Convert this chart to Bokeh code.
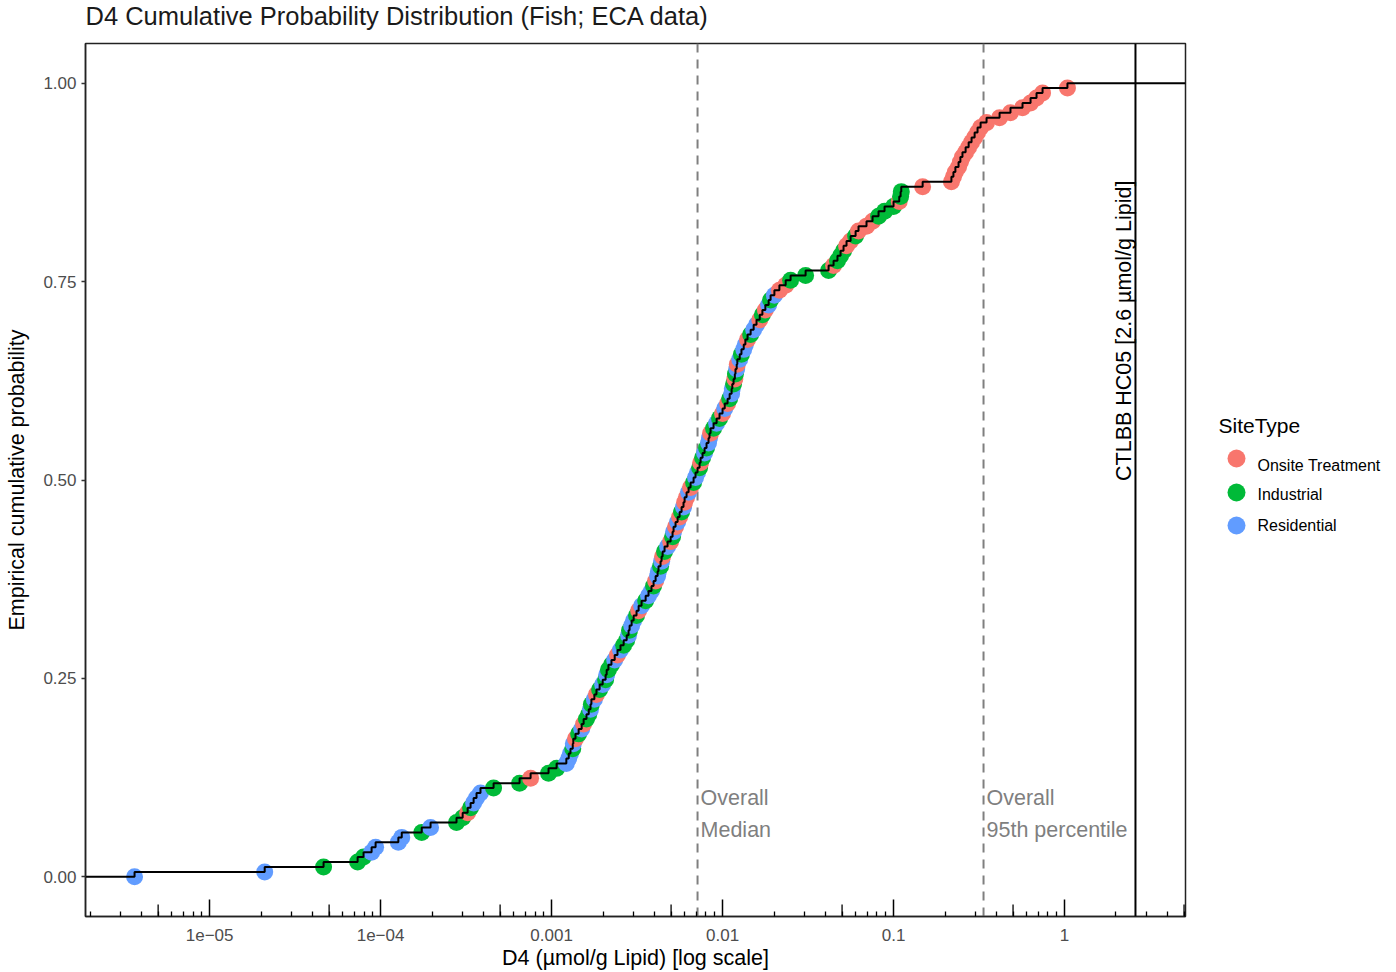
from bokeh.plotting import figure
from bokeh.layouts import row, column
from bokeh.models import (ColumnDataSource, FixedTicker, Span, Label,
                          CustomJSTickFormatter, Range1d)
from bokeh.core.properties import value
from bokeh.embed import file_html
from bokeh.resources import INLINE

# ---------------- data ----------------
d4_values = [
    3.64e-6, 2.10e-5, 4.64e-5, 7.34e-5, 7.95e-5, 8.86e-5, 9.35e-5, 1.27e-4, 1.33e-4, 1.74e-4,
    1.96e-4, 2.78e-4, 3.02e-4, 3.23e-4, 3.36e-4, 3.50e-4, 3.64e-4, 3.84e-4, 4.58e-4, 6.50e-4,
    7.54e-4, 9.60e-4, 1.07e-3, 1.22e-3, 1.26e-3, 1.29e-3, 1.33e-3, 1.34e-3, 1.38e-3, 1.44e-3,
    1.50e-3, 1.54e-3, 1.60e-3, 1.65e-3, 1.69e-3, 1.71e-3, 1.78e-3, 1.83e-3, 1.91e-3, 1.99e-3,
    2.07e-3, 2.10e-3, 2.15e-3, 2.24e-3, 2.34e-3, 2.43e-3, 2.53e-3, 2.64e-3, 2.75e-3, 2.82e-3,
    2.86e-3, 2.94e-3, 3.02e-3, 3.14e-3, 3.23e-3, 3.36e-3, 3.55e-3, 3.69e-3, 3.84e-3, 3.95e-3,
    4.06e-3, 4.17e-3, 4.22e-3, 4.34e-3, 4.40e-3, 4.46e-3, 4.58e-3, 4.77e-3, 4.97e-3, 5.10e-3,
    5.17e-3, 5.31e-3, 5.46e-3, 5.61e-3, 5.76e-3, 5.91e-3, 6.00e-3, 6.16e-3, 6.33e-3, 6.50e-3,
    6.77e-3, 6.95e-3, 7.14e-3, 7.34e-3, 7.44e-3, 7.64e-3, 7.85e-3, 8.06e-3, 8.28e-3, 8.39e-3,
    8.51e-3, 8.86e-3, 9.23e-3, 9.60e-3, 1.00e-2, 1.03e-2, 1.07e-2, 1.10e-2, 1.13e-2, 1.14e-2,
    1.16e-2, 1.18e-2, 1.19e-2, 1.21e-2, 1.22e-2, 1.26e-2, 1.29e-2, 1.33e-2, 1.36e-2, 1.40e-2,
    1.46e-2, 1.52e-2, 1.58e-2, 1.65e-2, 1.71e-2, 1.78e-2, 1.86e-2, 1.91e-2, 2.01e-2, 2.15e-2,
    2.34e-2, 2.50e-2, 3.06e-2, 4.17e-2, 4.46e-2, 4.70e-2, 4.90e-2, 5.10e-2, 5.31e-2, 5.61e-2,
    6.00e-2, 6.24e-2, 6.95e-2, 7.54e-2, 8.17e-2, 8.86e-2, 0.100, 0.108, 0.110, 0.111,
    0.148, 0.218, 0.224, 0.230, 0.240, 0.246, 0.253, 0.264, 0.275, 0.286,
    0.298, 0.310, 0.323, 0.350, 0.417, 0.483, 0.568, 0.633, 0.686, 0.744,
    1.04,
]
# R = Onsite Treatment, G = Industrial, B = Residential (one code per value above)
site_codes = list(
    "BBGGGBBBBG" "BGGRGBBBGG" "RGGBBBGBRG" "BRGGBGBRGB" "GBGGBRBGGB"
    "GBBGRBGBBG" "RBBGBRGBRG" "BRBRGBRRBR" "GBBGRGBGBB" "RGBGRBRGBB"
    "GRGBRBGBBR" "GBBRGRBGBR" "RGGGRGGGRR" "GRRRGGGRGG" "RRRRRRRRRR"
    "RRRRRRRRRRR"
)
site_names = {"R": "Onsite Treatment", "G": "Industrial", "B": "Residential"}
site_order = ["R", "G", "B"]
site_colors = {"R": "#F8766D", "G": "#00BA38", "B": "#619CFF"}

x_ticks = [1e-5, 1e-4, 1e-3, 1e-2, 1e-1, 1.0]
x_tick_labels = ["1e\u221205", "1e\u221204", "0.001", "0.01", "0.1", "1"]
y_ticks = [0.0, 0.25, 0.5, 0.75, 1.0]
y_tick_labels = ["0.00", "0.25", "0.50", "0.75", "1.00"]

overall_median = 0.00714
overall_p95 = 0.336
ctlbb_hc05 = 2.6

X_LO, X_HI = 1.88e-6, 5.1
Y_LO, Y_HI = -0.05, 1.05

title_text = "D4 Cumulative Probability Distribution (Fish; ECA data)"

# ---------------- derived ----------------
n = len(d4_values)
pt_y = [i / n for i in range(n)]
src = ColumnDataSource(dict(
    x=d4_values, y=pt_y,
    color=[site_colors[c] for c in site_codes],
    site=[site_names[c] for c in site_codes],
))
step_x = [X_LO] + d4_values + [X_HI]
step_y = [0.0] + [(i + 1) / n for i in range(n)] + [1.0]

FONT = "Liberation Sans"
W, H = 1396, 972
TITLE_H = 40
ML, MT, MB = 85, 3, 56
MAIN_W = 1215
MAIN_H = H - TITLE_H
MR = MAIN_W - 1185
LEG_W = W - MAIN_W
frame_h = MAIN_H - MT - MB
frame_top_page = TITLE_H + MT
frame_bot_page = frame_top_page + frame_h
data_per_px = (Y_HI - Y_LO) / frame_h


def bare(width, height, xr, yr):
    f = figure(width=width, height=height, x_range=xr, y_range=yr, title=None,
               output_backend="svg", toolbar_location=None,
               x_axis_location=None, y_axis_location=None,
               min_border=0, min_border_left=0, min_border_right=0,
               min_border_top=0, min_border_bottom=0)
    f.outline_line_color = None
    f.xgrid.visible = False
    f.ygrid.visible = False
    f.background_fill_color = "white"
    f.border_fill_color = "white"
    return f


# ---------------- title strip (page pixel coordinates) ----------------
tf = bare(W, TITLE_H, Range1d(0, W), Range1d(TITLE_H, 0))
tf.text(x=[85], y=[15], text=[title_text], text_font=value(FONT),
        text_font_size="25.5px", text_baseline="middle", text_align="left",
        text_color="#1a1a1a")

# ---------------- main plot ----------------
p = figure(width=MAIN_W, height=MAIN_H, x_axis_type="log", title=None,
           x_range=Range1d(X_LO, X_HI), y_range=Range1d(Y_LO, Y_HI),
           output_backend="svg", toolbar_location=None,
           min_border_left=ML, min_border_right=MR,
           min_border_top=MT, min_border_bottom=MB)
p.background_fill_color = "white"
p.border_fill_color = "white"
p.outline_line_color = "#222222"
p.outline_line_width = 1.5
p.xgrid.visible = False
p.ygrid.visible = False

# reference lines
for xv in (overall_median, overall_p95):
    p.add_layout(Span(location=xv, dimension="height", line_color="#7F7F7F",
                      line_width=2, line_dash="9 7", level="underlay"))
p.add_layout(Span(location=ctlbb_hc05, dimension="height", line_color="black",
                  line_width=2))

r = p.scatter("x", "y", source=src, size=17, fill_color="color", line_color=None)
p.step(step_x, step_y, mode="after", line_color="black", line_width=2)

# annotations
ann = dict(text_font=FONT, text_font_size="21.5px", text_color="#7F7F7F",
           text_baseline="middle", text_align="left", x_offset=3)
p.add_layout(Label(x=overall_median, y=0.0994, text="Overall", **ann))
p.add_layout(Label(x=overall_median, y=0.059, text="Median", **ann))
p.add_layout(Label(x=overall_p95, y=0.0994, text="Overall", **ann))
p.add_layout(Label(x=overall_p95, y=0.059, text="95th percentile", **ann))
p.add_layout(Label(x=ctlbb_hc05, y=0.688, text="CTLBB HC05 [2.6 \u00b5mol/g Lipid]",
                   angle=90, angle_units="deg", text_align="center",
                   text_baseline="alphabetic", x_offset=-11,
                   text_font=FONT, text_font_size="21.5px", text_color="black"))

# mid-length log ticks at 5 x 10^k
fives = [5 * 10.0 ** k for k in range(-6, 1)]
p.segment(x0=fives, x1=fives, y0=[Y_LO] * len(fives),
          y1=[Y_LO + 12 * data_per_px] * len(fives), line_color="black", line_width=1.3)

# axes
minor = [m * 10.0 ** k for k in range(-6, 1) for m in range(2, 10)]
xa = p.xaxis[0]
xa.ticker = FixedTicker(ticks=x_ticks, minor_ticks=minor)
xa.formatter = CustomJSTickFormatter(args=dict(labels=x_tick_labels), code="return labels[index];")
xa.major_tick_in = 17
xa.major_tick_out = 0
xa.minor_tick_in = 5
xa.minor_tick_out = 0
xa.major_tick_line_width = 1.5
xa.minor_tick_line_width = 1.3
xa.major_tick_line_color = "black"
xa.minor_tick_line_color = "black"
xa.axis_line_color = "#222222"
xa.axis_line_width = 1.5
xa.major_label_text_font = FONT
xa.major_label_text_font_size = "17px"
xa.major_label_text_color = "#4D4D4D"
xa.major_label_standoff = 12
xa.axis_label = "D4 (\u00b5mol/g Lipid) [log scale]"
xa.axis_label_text_font = FONT
xa.axis_label_text_font_size = "21.5px"
xa.axis_label_text_font_style = "normal"
xa.axis_label_text_color = "black"
xa.axis_label_standoff = 2

ya = p.yaxis[0]
ya.ticker = FixedTicker(ticks=y_ticks, minor_ticks=[])
ya.formatter = CustomJSTickFormatter(args=dict(labels=y_tick_labels), code="return labels[index];")
ya.major_tick_in = 0
ya.major_tick_out = 4
ya.major_tick_line_width = 1.5
ya.major_tick_line_color = "#333333"
ya.axis_line_color = "#222222"
ya.axis_line_width = 1.5
ya.major_label_text_font = FONT
ya.major_label_text_font_size = "17px"
ya.major_label_text_color = "#4D4D4D"
ya.major_label_standoff = 5
ya.axis_label = "Empirical cumulative probability"
ya.axis_label_text_font = FONT
ya.axis_label_text_font_size = "21.5px"
ya.axis_label_text_font_style = "normal"
ya.axis_label_text_color = "black"
ya.axis_label_standoff = 11

# ---------------- legend panel (page pixel coordinates; frame aligned to main frame) ----------------
lg = bare(LEG_W, MAIN_H, Range1d(MAIN_W, W), Range1d(frame_bot_page, frame_top_page))
glyph_rows = [458, 492, 525]
label_rows = [465, 494, 525]
lg.text(x=[1218], y=[425], text=["SiteType"], text_font=value(FONT),
        text_font_size="21px", text_baseline="middle", text_align="left",
        text_color="black")
lg.scatter(x=[1236] * 3, y=glyph_rows, size=18,
           fill_color=[site_colors[c] for c in site_order], line_color=None)
lg.text(x=[1257] * 3, y=label_rows,
        text=[site_names[c] for c in site_order], text_font=value(FONT),
        text_font_size="16px", text_baseline="middle", text_align="left",
        text_color="black")

layout = column(tf, row(p, lg, spacing=0), spacing=0)
open("out.html", "w").write(file_html(layout, INLINE))
